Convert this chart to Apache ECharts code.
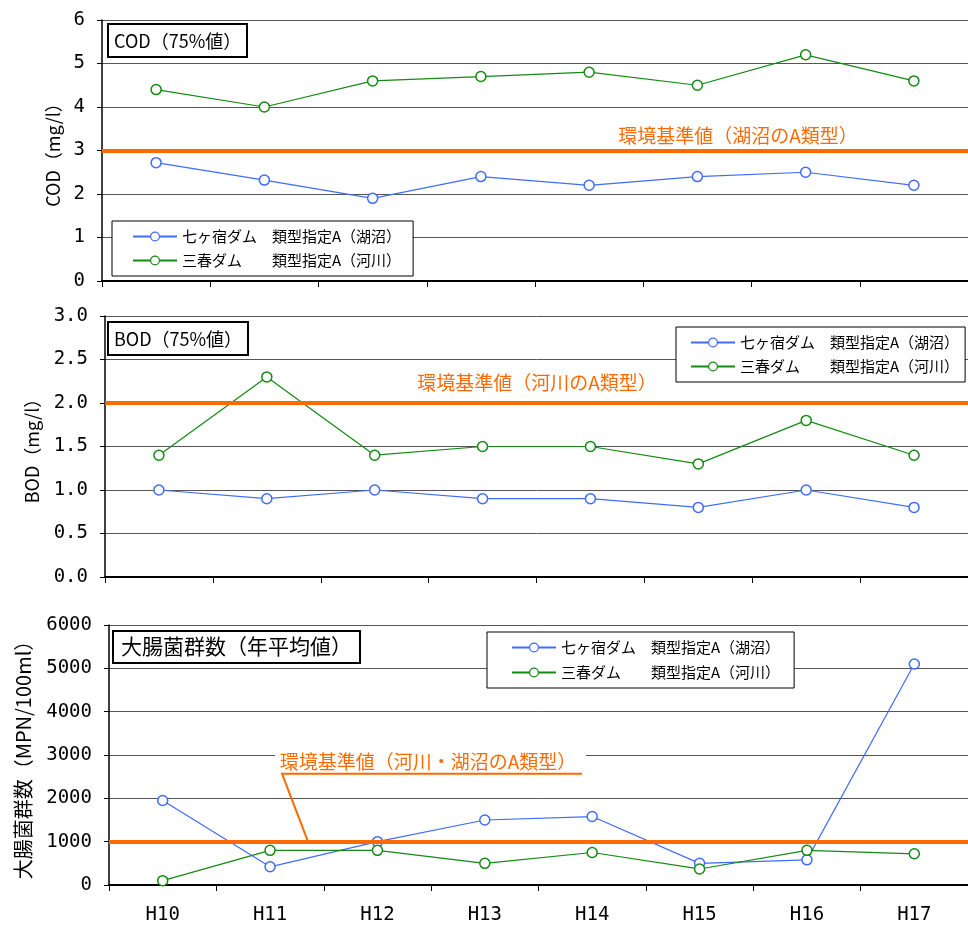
<!DOCTYPE html>
<html>
<head>
<meta charset="utf-8">
<script src="https://cdn.jsdelivr.net/npm/echarts@6/dist/echarts.min.js"></script>
<style>
html,body{margin:0;padding:0;background:#fff;}
#main{width:968px;height:926px;}
</style>
</head>
<body>
<div id="main"></div>
<script>
const categories = ['H10', 'H11', 'H12', 'H13', 'H14', 'H15', 'H16', 'H17'];
const codNanakashuku = [2.72, 2.32, 1.9, 2.4, 2.2, 2.4, 2.5, 2.2];
const codMiharu = [4.4, 4.0, 4.6, 4.7, 4.8, 4.5, 5.2, 4.6];
const bodNanakashuku = [1.0, 0.9, 1.0, 0.9, 0.9, 0.8, 1.0, 0.8];
const bodMiharu = [1.4, 2.3, 1.4, 1.5, 1.5, 1.3, 1.8, 1.4];
const coliNanakashuku = [1950, 420, 1000, 1500, 1580, 500, 580, 5100];
const coliMiharu = [100, 800, 800, 500, 750, 370, 800, 720];
const standards = [3, 2, 1000];
const standardLabels = ['環境基準値（湖沼のA類型）', '環境基準値（河川のA類型）', '環境基準値（河川・湖沼のA類型）'];
const panelTitles = ['COD（75%値）', 'BOD（75%値）', '大腸菌群数（年平均値）'];
const axisNames = ['COD（mg/l）', 'BOD（mg/l）', '大腸菌群数（MPN/100ml）'];
const seriesNames = ['七ヶ宿ダム　類型指定A（湖沼）', '三春ダム　　類型指定A（河川）'];
const yMax = [6, 3, 6000];
const yInterval = [1, 0.5, 1000];

const JP = "'Noto Sans CJK JP', sans-serif";
const NUM = "'DejaVu Sans Mono', monospace";
const BLUE = '#3f6cff';
const GREEN = '#138a13';
const ORANGE = '#ff6a00';

const grids = [
  {left: 102, top: 20, width: 872, height: 261},
  {left: 105, top: 316, width: 868, height: 261},
  {left: 109, top: 625, width: 866, height: 260}
];
const nameGaps = [40, 64, 76];
const nameSizes = [18, 18, 20];

const xAxes = grids.map((g, i) => ({
  type: 'category', gridIndex: i, data: categories, boundaryGap: true,
  axisLine: {lineStyle: {color: '#000', width: 2}},
  axisTick: {show: true, length: 6, lineStyle: {color: '#000', width: 1}},
  axisLabel: {show: i === 2, color: '#000', fontSize: 19, fontFamily: NUM, margin: 21},
  splitLine: {show: false}
}));
const yAxes = grids.map((g, i) => ({
  type: 'value', gridIndex: i, min: 0, max: yMax[i], interval: yInterval[i],
  name: axisNames[i], nameLocation: 'middle', nameRotate: 90, nameGap: nameGaps[i],
  nameTextStyle: {color: '#000', fontSize: nameSizes[i], fontFamily: JP},
  axisLine: {show: true, lineStyle: {color: '#000', width: 1.5}},
  axisTick: {show: true, length: 5, lineStyle: {color: '#000'}},
  axisLabel: {color: '#000', fontSize: 19, fontFamily: NUM, margin: 17,
    formatter: v => i === 1 ? v.toFixed(1) : String(v)},
  splitLine: {show: true, lineStyle: {color: '#555', width: 1}}
}));

const dataSets = [[codNanakashuku, codMiharu], [bodNanakashuku, bodMiharu], [coliNanakashuku, coliMiharu]];
const series = [];
dataSets.forEach((pair, i) => {
  pair.forEach((vals, k) => {
    const s = {
      type: 'line', name: seriesNames[k], xAxisIndex: i, yAxisIndex: i, data: vals,
      symbol: 'circle', symbolSize: 10, showSymbol: true,
      lineStyle: {color: k === 0 ? BLUE : GREEN, width: 1.2},
      itemStyle: {color: '#fff', borderColor: k === 0 ? BLUE : GREEN, borderWidth: 1.5},
      animation: false, z: 3
    };
    if (k === 0) {
      s.markLine = {
        silent: true, symbol: 'none', animation: false,
        lineStyle: {color: ORANGE, width: 4, type: 'solid'},
        label: {show: false},
        data: [{yAxis: standards[i]}]
      };
    }
    series.push(s);
  });
});

const legendPos = [
  {left: 112, top: 221, padding: [8, 12, 8, 20], itemGap: 9},
  {left: 676, top: 327, padding: [8, 6, 8, 14], itemGap: 9},
  {left: 487, top: 632, padding: [8, 14, 8, 24], itemGap: 10}
];
const legends = legendPos.map(p => ({
  left: p.left, top: p.top, orient: 'vertical', padding: p.padding, itemGap: p.itemGap,
  itemWidth: 44, itemHeight: 11, backgroundColor: '#fff', borderColor: '#000', borderWidth: 1,
  data: seriesNames, selectedMode: false,
  itemStyle: {borderWidth: 1.2},
  textStyle: {color: '#000', fontSize: 15, fontFamily: JP}
}));

const titles = [
  {text: panelTitles[0], left: 108, top: 24, padding: [8, 6, 7, 6], fs: 18},
  {text: panelTitles[1], left: 108, top: 322, padding: [8, 6, 7, 6], fs: 18},
  {text: panelTitles[2], left: 113, top: 631, padding: [5, 8, 6, 8], fs: 21}
].map(t => ({
  text: t.text, left: t.left, top: t.top, padding: t.padding,
  borderColor: '#000', borderWidth: 2, backgroundColor: '#fff',
  textStyle: {color: '#000', fontSize: t.fs, fontWeight: 'normal', fontFamily: JP}
}));

const chart = echarts.init(document.getElementById('main'), null, {renderer: 'canvas'});
chart.setOption({
  backgroundColor: '#fff',
  animation: false,
  title: titles,
  legend: legends,
  grid: grids,
  xAxis: xAxes,
  yAxis: yAxes,
  series: series
});

const ys = standards.map((v, i) => chart.convertToPixel({yAxisIndex: i}, v));
const textFont = '19px ' + JP;
chart.setOption({
  graphic: [
    {type: 'text', z: 10, style: {text: standardLabels[0], x: 738, y: ys[0] - 15, fill: ORANGE, font: textFont, align: 'center', verticalAlign: 'middle'}},
    {type: 'text', z: 10, style: {text: standardLabels[1], x: 537, y: ys[1] - 20, fill: ORANGE, font: textFont, align: 'center', verticalAlign: 'middle'}},
    {type: 'rect', z: 9, shape: {x: 275, y: ys[2] - 92, width: 311, height: 22}, style: {fill: '#fff'}},
    {type: 'text', z: 10, style: {text: standardLabels[2], x: 428, y: ys[2] - 80, fill: ORANGE, font: textFont, align: 'center', verticalAlign: 'middle'}},
    {type: 'polyline', z: 10, shape: {points: [[582, ys[2] - 68], [282, ys[2] - 68], [308, ys[2]]]}, style: {stroke: ORANGE, lineWidth: 2, fill: null}}
  ]
});
</script>
</body>
</html>
